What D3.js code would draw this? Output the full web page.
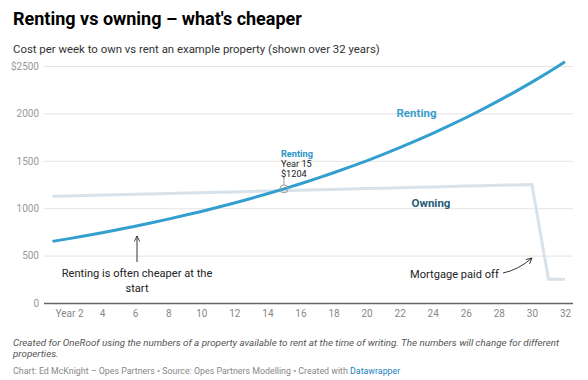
<!DOCTYPE html>
<html><head><meta charset="utf-8">
<script src="https://cdn.jsdelivr.net/npm/d3@7"></script>
<style>
body{margin:0;background:#fff;font-family:Roboto,sans-serif;}
svg{display:block;}
</style></head>
<body><svg id="c" width="588" height="380"></svg>
<script>
const years = [1,2,3,4,5,6,7,8,9,10,11,12,13,14,15,16,17,18,19,20,21,22,23,24,25,26,27,28,29,30,31,32];
const renting = [650,679,710,742,775,810,847,885,925,966,1010,1055,1103,1152,1204,1258,1315,1374,1436,1500,1568,1639,1712,1789,1870,1954,2042,2134,2230,2330,2435,2545];
const owning = [1125,1129,1134,1138,1142,1147,1151,1155,1160,1164,1168,1172,1177,1181,1185,1190,1194,1198,1203,1207,1211,1216,1220,1224,1229,1233,1237,1241,1246,1250,250,250];
const xTicks = [2,4,6,8,10,12,14,16,18,20,22,24,26,28,30,32];
const yTicks = [0,500,1000,1500,2000,2500];

const svg = d3.select("#c");
const x = d3.scaleLinear().domain([1,32]).range([52.5,565]);
const y = d3.scaleLinear().domain([0,2500]).range([303,66]);

// title
svg.append("text").attr("x",13).attr("y",25).attr("font-size",18).attr("font-weight",700).attr("fill","#000").text("Renting vs owning – what's cheaper");
svg.append("text").attr("x",13).attr("y",52.5).attr("font-size",11.4).attr("fill","#333").text("Cost per week to own vs rent an example property (shown over 32 years)");

// grid
const yAxis = d3.axisLeft(y).tickValues(yTicks).tickSize(-(573-44)).tickFormat(d=> d===2500 ? "$2500" : d);
const gy = svg.append("g").attr("transform","translate(44,0)").call(yAxis);
gy.select(".domain").remove();
gy.selectAll(".tick line").attr("stroke","#e4e4e4").attr("stroke-width",1);
gy.selectAll(".tick text").attr("x",-5).attr("fill","#999").attr("font-size",10).attr("font-family","Roboto");
gy.selectAll(".tick").filter(d=>d===0).select("line").attr("stroke","#666").attr("stroke-width",1.5);

const xAxis = d3.axisBottom(x).tickValues(xTicks).tickSize(0).tickFormat(d=> d===2 ? "Year 2" : d);
const gx = svg.append("g").attr("transform","translate(0,303)").call(xAxis);
gx.select(".domain").remove();
gx.selectAll(".tick text").attr("dy",0).attr("y",14).attr("fill","#888").attr("font-size",10).attr("font-family","Roboto");

const line = d3.line().x((d,i)=>x(years[i])).y(d=>y(d));
svg.append("path").datum(owning).attr("d",line).attr("fill","none").attr("stroke","#d7e2ea").attr("stroke-width",3);
svg.append("path").datum(renting).attr("d",line).attr("fill","none").attr("stroke","#339fcf").attr("stroke-width",3).attr("stroke-linejoin","round");

// line labels
svg.append("text").attr("x",416.5).attr("y",117).attr("text-anchor","middle").attr("font-size",11.5).attr("font-weight",700).attr("fill","#3a9ecd").text("Renting");
svg.append("text").attr("x",431).attr("y",207).attr("text-anchor","middle").attr("font-size",11.5).attr("font-weight",700).attr("fill","#1f5d7a").text("Owning");

// highlight
const hx = x(15), hy = y(renting[14]);
svg.append("line").attr("x1",hx).attr("x2",hx).attr("y1",hy-4).attr("y2",hy-13).attr("stroke","#999").attr("stroke-width",1);
svg.append("circle").attr("cx",hx).attr("cy",hy).attr("r",4).attr("fill","none").attr("stroke","#999").attr("stroke-width",1);
svg.append("text").attr("x",hx-3).attr("y",156.5).attr("font-size",9.2).attr("font-weight",700).attr("fill","#2a93c4").text("Renting");
svg.append("text").attr("x",hx-3).attr("y",166.5).attr("font-size",9.2).attr("fill","#222").text("Year 15");
svg.append("text").attr("x",hx-3).attr("y",176.5).attr("font-size",9.2).attr("fill","#222").text("$" + renting[14]);

// annotations
const defs = svg.append("defs");
defs.append("marker").attr("id","ah").attr("viewBox","0 0 10 10").attr("refX",9).attr("refY",5).attr("markerWidth",7).attr("markerHeight",7).attr("orient","auto")
  .append("path").attr("d","M1,1 L9,5 L1,9").attr("fill","none").attr("stroke","#333").attr("stroke-width",1.3);
svg.append("line").attr("x1",137).attr("x2",137).attr("y1",262).attr("y2",236).attr("stroke","#333").attr("stroke-width",1).attr("marker-end","url(#ah)");
svg.append("text").attr("x",137).attr("y",277).attr("text-anchor","middle").attr("font-size",11.1).attr("fill","#222").text("Renting is often cheaper at the");
svg.append("text").attr("x",137).attr("y",292).attr("text-anchor","middle").attr("font-size",11.1).attr("fill","#222").text("start");
svg.append("text").attr("x",410).attr("y",278).attr("font-size",11.1).attr("fill","#222").text("Mortgage paid off");
svg.append("path").attr("d","M503,273 Q518,270 532,258").attr("fill","none").attr("stroke","#333").attr("stroke-width",1).attr("marker-end","url(#ah)");

// footer
svg.append("text").attr("x",13).attr("y",345.5).attr("font-size",9.8).attr("font-style","italic").attr("fill","#555").text("Created for OneRoof using the numbers of a property available to rent at the time of writing. The numbers will change for different");
svg.append("text").attr("x",13).attr("y",357).attr("font-size",9.8).attr("font-style","italic").attr("fill","#555").text("properties.");
const src = svg.append("text").attr("x",13).attr("y",374).attr("font-size",8.85).attr("fill","#888");
src.append("tspan").text("Chart: Ed McKnight – Opes Partners • Source: Opes Partners Modelling • Created with ");
src.append("tspan").attr("fill","#1d81c2").text("Datawrapper");
</script></body></html>
